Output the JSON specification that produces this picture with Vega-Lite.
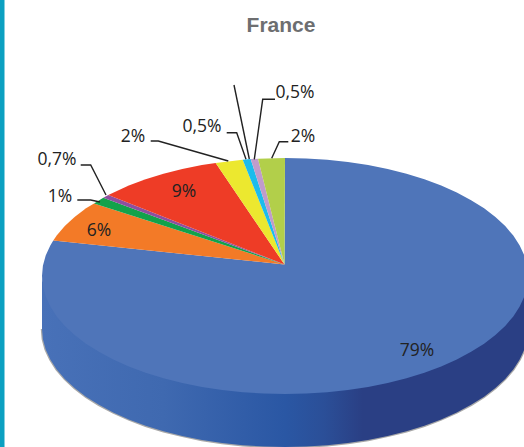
{"$schema":"https://vega.github.io/schema/vega-lite/v6.json","width":524,"height":447,"padding":0,"autosize":"none","background":"white","view":{"stroke":null},
"datasets":{
"band":[{"x":0,"x2":4.5}],
"side":[{"x":42,"y":276,"yt":276,"yb":329},{"x":42.9,"y":286.3,"yt":282,"yb":339.3},{"x":45.7,"y":296.5,"yt":292,"yb":349.5},{"x":50.3,"y":306.5,"yt":302,"yb":359.5},{"x":56.7,"y":316.4,"yt":312,"yb":369.4},{"x":64.8,"y":325.9,"yt":321,"yb":378.9},{"x":74.6,"y":335,"yt":330,"yb":388},{"x":85.9,"y":343.7,"yt":339,"yb":396.7},{"x":98.9,"y":351.8,"yt":347,"yb":404.8},{"x":113.2,"y":359.4,"yt":355,"yb":412.4},{"x":128.8,"y":366.4,"yt":362,"yb":419.4},{"x":145.6,"y":372.7,"yt":368,"yb":425.7},{"x":163.5,"y":378.2,"yt":374,"yb":431.2},{"x":182.3,"y":382.9,"yt":378,"yb":435.9},{"x":201.9,"y":386.9,"yt":382,"yb":439.9},{"x":222.1,"y":390,"yt":385,"yb":443},{"x":242.8,"y":392.2,"yt":387,"yb":445.2},{"x":263.8,"y":393.6,"yt":389,"yb":446.6},{"x":285,"y":394,"yt":389,"yb":447},{"x":306.2,"y":393.6,"yt":389,"yb":446.6},{"x":327.2,"y":392.2,"yt":387,"yb":445.2},{"x":347.9,"y":390,"yt":385,"yb":443},{"x":368.1,"y":386.9,"yt":382,"yb":439.9},{"x":387.7,"y":382.9,"yt":378,"yb":435.9},{"x":406.5,"y":378.2,"yt":374,"yb":431.2},{"x":424.4,"y":372.7,"yt":368,"yb":425.7},{"x":441.2,"y":366.4,"yt":362,"yb":419.4},{"x":456.8,"y":359.4,"yt":355,"yb":412.4},{"x":471.1,"y":351.8,"yt":347,"yb":404.8},{"x":484.1,"y":343.7,"yt":339,"yb":396.7},{"x":495.4,"y":335,"yt":330,"yb":388},{"x":505.2,"y":325.9,"yt":321,"yb":378.9},{"x":513.3,"y":316.4,"yt":312,"yb":369.4},{"x":519.7,"y":306.5,"yt":302,"yb":359.5},{"x":524.3,"y":296.5,"yt":292,"yb":349.5},{"x":527.1,"y":286.3,"yt":282,"yb":339.3},{"x":528,"y":276,"yt":276,"yb":329}],
"slices":[
{"s":"a","i":0,"x":284.5,"y":264.5},{"s":"a","i":1,"x":285,"y":158},{"s":"a","i":2,"x":306.2,"y":158.4},{"s":"a","i":3,"x":327.2,"y":159.8},{"s":"a","i":4,"x":347.9,"y":162},{"s":"a","i":5,"x":368.1,"y":165.1},{"s":"a","i":6,"x":387.7,"y":169.1},{"s":"a","i":7,"x":406.5,"y":173.8},{"s":"a","i":8,"x":424.4,"y":179.3},{"s":"a","i":9,"x":441.2,"y":185.6},{"s":"a","i":10,"x":456.8,"y":192.6},{"s":"a","i":11,"x":471.1,"y":200.2},{"s":"a","i":12,"x":484.1,"y":208.3},{"s":"a","i":13,"x":495.4,"y":217},{"s":"a","i":14,"x":505.2,"y":226.1},{"s":"a","i":15,"x":513.3,"y":235.6},{"s":"a","i":16,"x":519.7,"y":245.5},{"s":"a","i":17,"x":524.3,"y":255.5},{"s":"a","i":18,"x":527.1,"y":265.7},{"s":"a","i":19,"x":528,"y":276},{"s":"a","i":20,"x":527.1,"y":286.3},{"s":"a","i":21,"x":524.3,"y":296.5},{"s":"a","i":22,"x":519.7,"y":306.5},{"s":"a","i":23,"x":513.3,"y":316.4},{"s":"a","i":24,"x":505.2,"y":325.9},{"s":"a","i":25,"x":495.4,"y":335},{"s":"a","i":26,"x":484.1,"y":343.7},{"s":"a","i":27,"x":471.1,"y":351.8},{"s":"a","i":28,"x":456.8,"y":359.4},{"s":"a","i":29,"x":441.2,"y":366.4},{"s":"a","i":30,"x":424.4,"y":372.7},{"s":"a","i":31,"x":406.5,"y":378.2},{"s":"a","i":32,"x":387.7,"y":382.9},{"s":"a","i":33,"x":368.1,"y":386.9},{"s":"a","i":34,"x":347.9,"y":390},{"s":"a","i":35,"x":327.2,"y":392.2},{"s":"a","i":36,"x":306.2,"y":393.6},{"s":"a","i":37,"x":285,"y":394},{"s":"a","i":38,"x":263.8,"y":393.6},{"s":"a","i":39,"x":242.8,"y":392.2},{"s":"a","i":40,"x":222.1,"y":390},{"s":"a","i":41,"x":201.9,"y":386.9},{"s":"a","i":42,"x":182.3,"y":382.9},{"s":"a","i":43,"x":163.5,"y":378.2},{"s":"a","i":44,"x":145.6,"y":372.7},{"s":"a","i":45,"x":128.8,"y":366.4},{"s":"a","i":46,"x":113.2,"y":359.4},{"s":"a","i":47,"x":98.9,"y":351.8},{"s":"a","i":48,"x":85.9,"y":343.7},{"s":"a","i":49,"x":74.6,"y":335},{"s":"a","i":50,"x":64.8,"y":325.9},{"s":"a","i":51,"x":56.7,"y":316.4},{"s":"a","i":52,"x":50.3,"y":306.5},{"s":"a","i":53,"x":45.7,"y":296.5},{"s":"a","i":54,"x":42.9,"y":286.3},{"s":"a","i":55,"x":42,"y":276},{"s":"a","i":56,"x":42.9,"y":265.7},{"s":"a","i":57,"x":45.7,"y":255.5},{"s":"a","i":58,"x":50.3,"y":245.5},{"s":"a","i":59,"x":53.3,"y":240.5},
{"s":"b","i":0,"x":284.5,"y":264.5},{"s":"b","i":1,"x":53.3,"y":240.5},{"s":"b","i":2,"x":56.7,"y":235.6},{"s":"b","i":3,"x":64.8,"y":226.1},{"s":"b","i":4,"x":74.6,"y":217},{"s":"b","i":5,"x":86,"y":208.3},{"s":"b","i":6,"x":94,"y":203.5},
{"s":"c","i":0,"x":284.5,"y":264.5},{"s":"c","i":1,"x":94,"y":203.5},{"s":"c","i":2,"x":103.3,"y":197.7},
{"s":"d","i":0,"x":284.5,"y":264.5},{"s":"d","i":1,"x":103.3,"y":197.7},{"s":"d","i":2,"x":108.3,"y":195},
{"s":"e","i":0,"x":284.5,"y":264.5},{"s":"e","i":1,"x":108.3,"y":195},{"s":"e","i":2,"x":128.8,"y":185.6},{"s":"e","i":3,"x":145.6,"y":179.3},{"s":"e","i":4,"x":163.5,"y":173.8},{"s":"e","i":5,"x":182.3,"y":169.1},{"s":"e","i":6,"x":201.9,"y":165.1},{"s":"e","i":7,"x":215.7,"y":163},
{"s":"f","i":0,"x":284.5,"y":264.5},{"s":"f","i":1,"x":215.7,"y":163},{"s":"f","i":2,"x":242.7,"y":159.8},
{"s":"g","i":0,"x":284.5,"y":264.5},{"s":"g","i":1,"x":242.7,"y":159.8},{"s":"g","i":2,"x":250.7,"y":159.1},
{"s":"h","i":0,"x":284.5,"y":264.5},{"s":"h","i":1,"x":250.7,"y":159.1},{"s":"h","i":2,"x":258,"y":158.7},
{"s":"j","i":0,"x":284.5,"y":264.5},{"s":"j","i":1,"x":258,"y":158.7},{"s":"j","i":2,"x":285,"y":158}],
"leaders":[
{"l":"1","i":0,"x":80.7,"y":165},{"l":"1","i":1,"x":90.7,"y":165},{"l":"1","i":2,"x":106,"y":195},
{"l":"2","i":0,"x":77.3,"y":200},{"l":"2","i":1,"x":90.7,"y":200},{"l":"2","i":2,"x":100,"y":202},
{"l":"3","i":0,"x":150.7,"y":141},{"l":"3","i":1,"x":158.3,"y":141},{"l":"3","i":2,"x":228.3,"y":161},
{"l":"4","i":0,"x":226.7,"y":132.7},{"l":"4","i":1,"x":236.7,"y":132.7},{"l":"4","i":2,"x":246,"y":159.3},
{"l":"5","i":0,"x":234,"y":85},{"l":"5","i":1,"x":249.3,"y":159},
{"l":"6","i":0,"x":275,"y":99.3},{"l":"6","i":1,"x":262.7,"y":99.3},{"l":"6","i":2,"x":254.3,"y":159.3},
{"l":"7","i":0,"x":288.3,"y":141.7},{"l":"7","i":1,"x":279.3,"y":141.7},{"l":"7","i":2,"x":271.7,"y":158.3}],
"labels":[
{"t":"0,7%","x":57,"y":160},{"t":"1%","x":60,"y":197},{"t":"2%","x":133,"y":137},{"t":"0,5%","x":202,"y":127},{"t":"0,5%","x":295,"y":93},{"t":"2%","x":303,"y":137},{"t":"6%","x":99,"y":231},{"t":"9%","x":184,"y":192},{"t":"79%","x":417,"y":351}]
},
"encoding":{
"x":{"field":"x","type":"quantitative","axis":null,"scale":{"domain":[0,524],"nice":false,"zero":false}},
"y":{"field":"y","type":"quantitative","axis":null,"scale":{"domain":[447,0],"nice":false,"zero":false}}
},
"layer":[
{"data":{"name":"band"},"mark":{"type":"rect","color":"#0ba0c1"},"encoding":{"x":{"field":"x","type":"quantitative"},"x2":{"field":"x2"},"y":{"value":0},"y2":{"value":447}}},
{"data":{"name":"side"},"mark":{"type":"line","color":"#a8a8a8","strokeWidth":2.5,"clip":true},"encoding":{"y":{"field":"yb","type":"quantitative"},"order":{"field":"x","type":"quantitative"}}},
{"data":{"name":"side"},"mark":{"type":"area","clip":true,"color":{"x1":0,"y1":0,"x2":1,"y2":0,"gradient":"linear","stops":[{"offset":0,"color":"#4871b8"},{"offset":0.25,"color":"#3f69b0"},{"offset":0.5,"color":"#2a57a4"},{"offset":0.58,"color":"#2b4f98"},{"offset":0.66,"color":"#2a3f84"},{"offset":1,"color":"#2a3f84"}]}},"encoding":{"y":{"field":"yt","type":"quantitative"},"y2":{"field":"yb"}}},
{"data":{"name":"slices"},"mark":{"type":"line","filled":true,"interpolate":"linear-closed","clip":true},"encoding":{"order":{"field":"i","type":"quantitative"},"color":{"field":"s","type":"nominal","legend":null,"scale":{"domain":["a","b","c","d","e","f","g","h","j"],"range":["#4f75b9","#f37a27","#12a24b","#8e4f9f","#ee3c26","#ece82f","#1cbcec","#c09ccb","#b2cf4a"]}}}},
{"data":{"name":"leaders"},"mark":{"type":"line","color":"#222222","strokeWidth":1.4},"encoding":{"detail":{"field":"l"},"order":{"field":"i","type":"quantitative"}}},
{"data":{"name":"labels"},"mark":{"type":"text","font":"Open Sans","fontSize":17.5,"color":"#222222"},"encoding":{"text":{"field":"t"}}},
{"data":{"values":[{"t":"France","x":281,"y":26}]},"mark":{"type":"text","font":"Liberation Sans","fontWeight":"bold","fontSize":21,"color":"#6d6e70"},"encoding":{"text":{"field":"t"}}}
]}
